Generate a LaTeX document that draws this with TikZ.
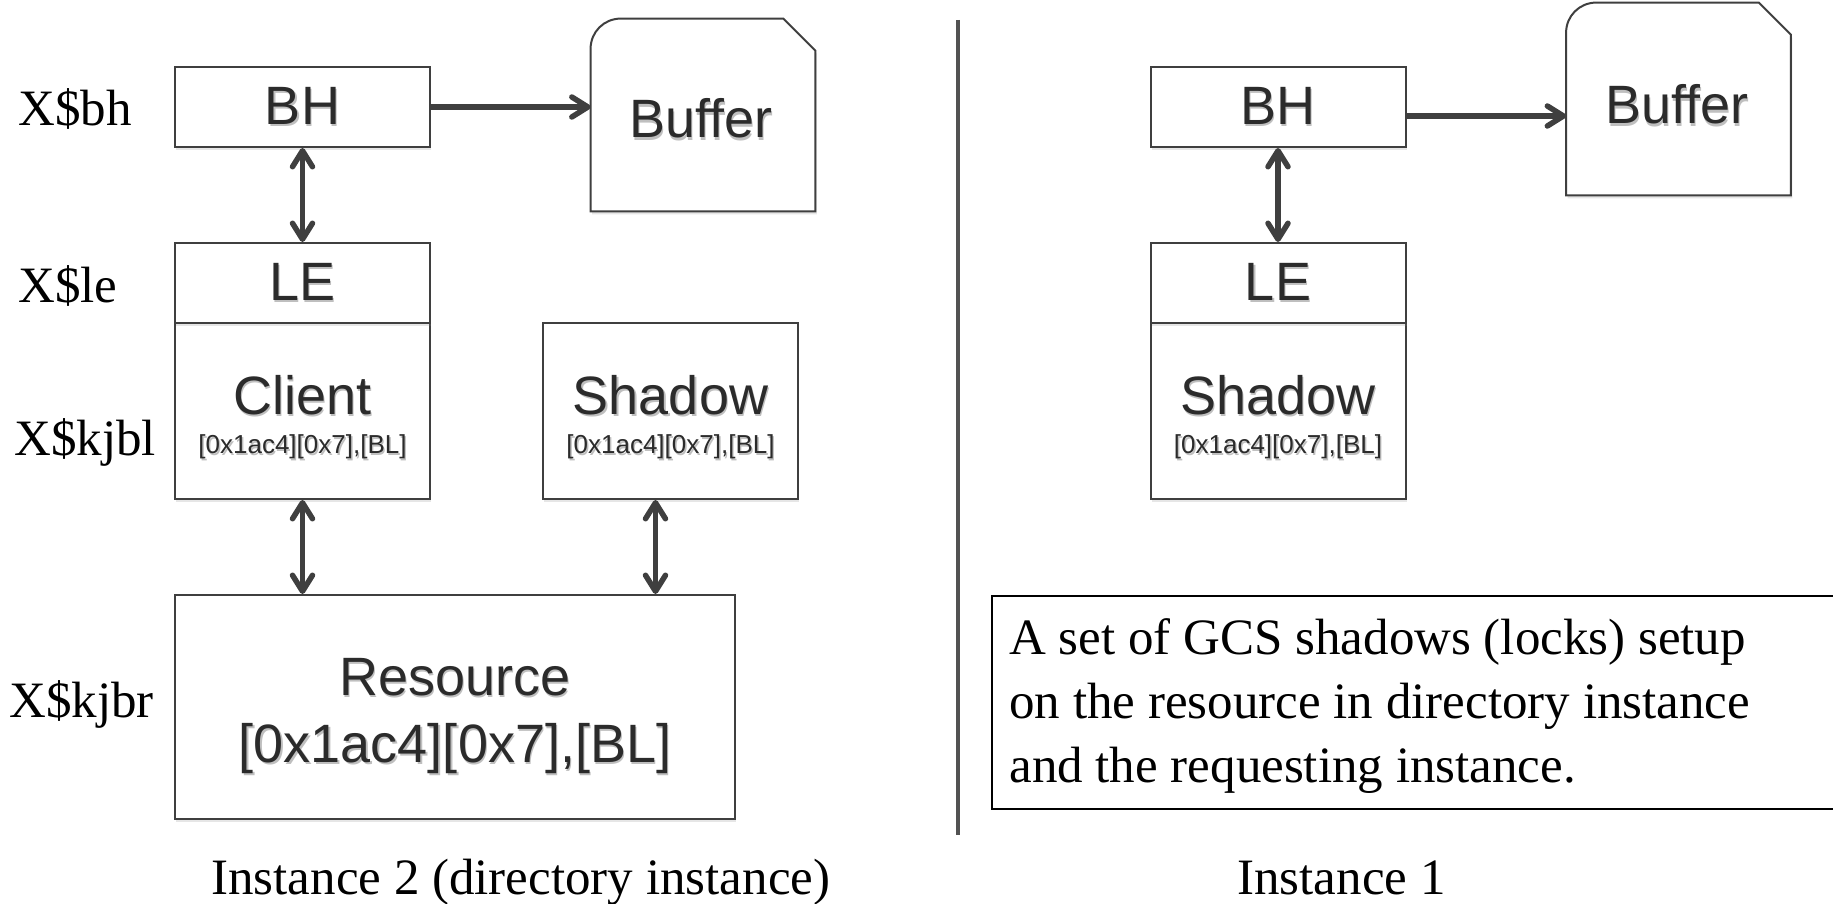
\documentclass[tikz,border=0pt]{standalone}
\usepackage{fontspec}
\setmainfont{Liberation Serif}
\newfontfamily\helv{Liberation Sans}
\usetikzlibrary{arrows.meta,shadows,calc,backgrounds}
\definecolor{edge}{HTML}{3F3F3F}
\definecolor{ink}{HTML}{2B2B2B}
\newcommand\shd[1]{\leavevmode\rlap{\kern0.7pt\raisebox{-1.3pt}{\textcolor{black!25}{#1}}}#1}
\newcommand\bufoutline[1]{\filldraw[bufline] (#1.south west) -- ($(#1.north west)+(0,30)$) .. controls ($(#1.north west)+(0,13.4)$) and ($(#1.north west)+(13.4,0)$) .. ($(#1.north west)+(30,0)$) -- ($(#1.north east)+(-32,0)$) -- ($(#1.north east)+(0,32)$) -- (#1.south east) -- cycle;}
\begin{document}
\begin{tikzpicture}[x=0.5pt,y=-0.5pt,
 shadowed/.style={drop shadow={shadow xshift=0.7pt,shadow yshift=-1.5pt,opacity=0.2}},
 box/.style={draw=edge,line width=1pt,fill=white,inner sep=0pt,shadowed},
 bufline/.style={draw=edge,line width=1pt,fill=white,shadowed},
 sm/.style={box,minimum width=127.5pt,minimum height=40pt},
 tall/.style={box,minimum width=127.5pt,minimum height=88pt},
 bufbox/.style={inner sep=0pt,minimum width=112pt,minimum height=96pt},
 sans/.style={font=\helv\fontsize{27}{32}\selectfont,text=ink,inner sep=0pt},
 tiny/.style={font=\helv\fontsize{13}{15}\selectfont,text=ink,inner sep=0pt},
 serif/.style={font=\fontsize{25.5}{32}\selectfont,text=black,inner sep=0pt},
 arr/.style={draw=edge,line width=2.75pt,-{Straight Barb[length=8pt,width=10pt,round]}},
 darr/.style={draw=edge,line width=2.75pt,{Straight Barb[length=8pt,width=10pt,round]}-{Straight Barb[length=8pt,width=10pt,round]}},
 sep/.style={draw=black!68,line width=2pt},
]
\useasboundingbox (0,0) rectangle (1833,904);

% ---------- left: Instance 2 ----------
\node[tall] (client) at (302.5,411) {};
\node[sm,sans] (leL) at (302.5,283) {\shd{LE}};
\node[sm,sans] (bhL) at (302.5,107) {\shd{BH}};
\node[sans,anchor=base] (clientT) at (302.5,414) {\shd{Client}};
\node[tiny,anchor=base] (clientA) at (302.5,453) {\shd{[0x1ac4][0x7],[BL]}};

\node[tall] (shL) at (670.5,411) {};
\node[sans,anchor=base] (shLT) at (670.5,414) {\shd{Shadow}};
\node[tiny,anchor=base] (shLA) at (670.5,453) {\shd{[0x1ac4][0x7],[BL]}};

\node[box,minimum width=280pt,minimum height=112pt] (res) at (455,707) {};
\node[sans,anchor=base] (resT) at (455,695) {\shd{Resource}};
\node[sans,anchor=base] (resA) at (455,762) {\shd{[0x1ac4][0x7],[BL]}};

\node[bufbox] (bufL) at (703,115) {};
\bufoutline{bufL}
\node[sans,anchor=base] (bufLT) at (701,138) {\shd{Buffer}};

\draw[arr] (bhL.east) -- (bhL.east -| bufL.west);
\draw[darr] (bhL.south) -- (leL.north);
\draw[darr] (client.south) -- (client.south |- res.north);
\coordinate (shLa) at ($(shL.south)+(-15,0)$);
\draw[darr] (shLa) -- (shLa |- res.north);

\node[serif,anchor=base west] (lbh) at (18,126) {X\$bh};
\node[serif,anchor=base west] (lle) at (18,302) {X\$le};
\node[serif,anchor=base west] (lkjbl) at (14,455) {X\$kjbl};
\node[serif,anchor=base west] (lkjbr) at (9,717) {X\$kjbr};
\node[serif,anchor=base west] (cap2) at (211,894) {Instance 2 (directory instance)};

% ---------- separator ----------
\coordinate (sepT) at (958,20);
\coordinate (sepB) at (958,835);
\draw[sep] (sepT) -- (sepB);

% ---------- right: Instance 1 ----------
\node[tall] (shR) at (1278,411) {};
\node[sm,sans] (leR) at (1278,283) {\shd{LE}};
\node[sm,sans] (bhR) at (1278,107) {\shd{BH}};
\node[sans,anchor=base] (shRT) at (1278,414) {\shd{Shadow}};
\node[tiny,anchor=base] (shRA) at (1278,453) {\shd{[0x1ac4][0x7],[BL]}};

\node[bufbox] (bufR) at (1678.5,99) {};
\bufoutline{bufR}
\node[sans,anchor=base] (bufRT) at (1677,124) {\shd{Buffer}};

\coordinate (aR) at ($(bhR.east)+(0,9)$);
\draw[arr] (aR) -- (aR -| bufR.west);
\draw[darr] (bhR.south) -- (leR.north);

\node[draw=black,line width=1pt,minimum width=430pt,minimum height=106.5pt,anchor=north west,inner sep=0pt] (note) at (991,595) {};
\node[serif,anchor=base west,align=left] (noteT) at (1009,782) {A set of GCS shadows (locks) setup\\on the resource in directory instance\\and the requesting instance.};

\node[serif,anchor=base west] (cap1) at (1237,894) {Instance 1};
\end{tikzpicture}
\end{document}
